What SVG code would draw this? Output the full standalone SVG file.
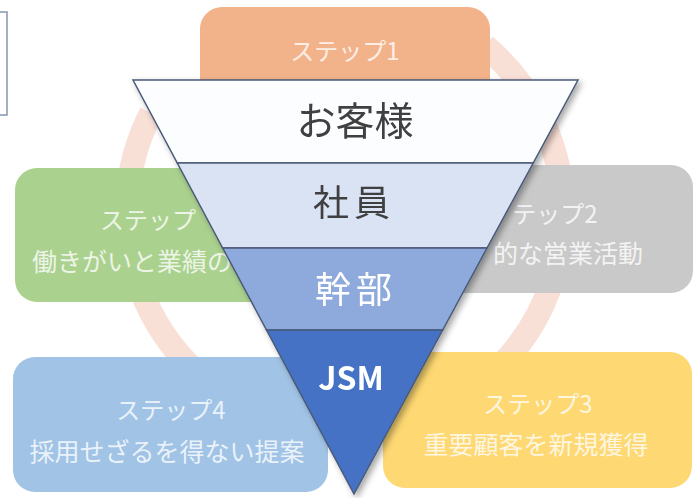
<svg xmlns="http://www.w3.org/2000/svg" width="700" height="498" viewBox="0 0 700 498">
  <style>
    .box { stroke: none; }
    .st { font-family: "Noto Sans CJK JP", "Noto Sans", sans-serif; font-size: 24px; fill: #ffffff; fill-opacity: 0.8; text-anchor: middle; dominant-baseline: central; }
    .band { stroke: #4a5a78; stroke-width: 1.5; stroke-linejoin: miter; }
    .lbl { font-family: "Noto Sans CJK JP", "Noto Sans", sans-serif; text-anchor: middle; dominant-baseline: central; }
    .arc { fill: none; stroke: #f9e0d6; stroke-width: 24; }
  </style>
  <defs>
    <filter id="sh" x="-10%" y="-10%" width="130%" height="130%">
      <feDropShadow dx="3" dy="3" stdDeviation="3" flood-color="#000000" flood-opacity="0.35"/>
    </filter>
  </defs>
  <rect width="700" height="498" fill="#ffffff"/>

  <g id="frame">
    <rect x="-10" y="12" width="17" height="103" fill="none" stroke="#8496b0" stroke-width="1.5"/>
  </g>

  <g id="connectors">
    <path class="arc" d="M 485 46 A 218 218 0 0 1 562.6 200"/>
    <path class="arc" d="M 552.4 280 A 218 218 0 0 1 506 360"/>
    <path class="arc" d="M 194 370 A 218 218 0 0 1 141 290"/>
    <path class="arc" d="M 127.4 200 A 218 218 0 0 1 151 113"/>
  </g>

  <g id="step1">
    <rect class="box" x="200" y="7" width="290" height="128" rx="22" fill="#f2b38b"/>
    <text class="st" x="345" y="49">ステップ1</text>
  </g>
  <g id="step2">
    <rect class="box" x="392" y="165" width="301" height="128" rx="22" fill="#c9c9c9"/>
    <text class="st" x="555" y="212">テップ2</text>
    <text class="st" x="568" y="252" style="font-size:25px">的な営業活動</text>
  </g>
  <g id="step3">
    <rect class="box" x="383" y="352" width="309" height="136" rx="22" fill="#fed872"/>
    <text class="st" x="538" y="402">ステップ3</text>
    <text class="st" x="536" y="443" style="font-size:25px">重要顧客を新規獲得</text>
  </g>
  <g id="step4">
    <rect class="box" x="13" y="357" width="315" height="135" rx="22" fill="#a1c4e6"/>
    <text class="st" x="171" y="408">ステップ4</text>
    <text class="st" x="167" y="450" style="font-size:25px">採用せざるを得ない提案</text>
  </g>
  <g id="step5">
    <rect class="box" x="15" y="168" width="303" height="134" rx="22" fill="#abd18f"/>
    <text class="st" x="148" y="218">ステップ</text>
    <text class="st" x="132" y="260" style="font-size:25px">働きがいと業績の</text>
  </g>

  <g id="pyramid" filter="url(#sh)">
    <g id="band-customer">
      <polygon class="band" points="133,80 578,80 533.2,163 177.3,163" fill="#fcfdff"/>
      <text class="lbl" x="355" y="118" font-size="39" fill="#404040">お客様</text>
    </g>
    <g id="band-staff">
      <polygon class="band" points="177.3,163 533.2,163 487,248 222.7,248" fill="#d9e3f4"/>
      <text class="lbl" x="354" y="200" font-size="36" fill="#404040" letter-spacing="5">社員</text>
    </g>
    <g id="band-exec">
      <polygon class="band" points="222.7,248 487,248 442.7,330 266.5,330" fill="#8eaadc"/>
      <text class="lbl" x="356" y="287" font-size="36" fill="#ffffff" letter-spacing="5">幹部</text>
    </g>
    <g id="band-jsm">
      <polygon class="band" points="266.5,330 442.7,330 354,494" fill="#4472c4"/>
      <text class="lbl" x="351" y="376" font-size="32" font-weight="bold" fill="#ffffff">JSM</text>
    </g>
  </g>
</svg>
